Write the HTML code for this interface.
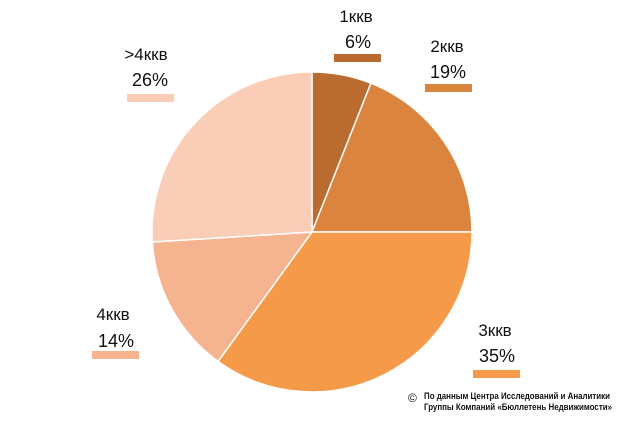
<!DOCTYPE html><html><head><meta charset="utf-8"><style>
body{margin:0;background:#fff;width:620px;height:420px;overflow:hidden}
svg text{font-family:"Liberation Sans",sans-serif;fill:#111}
</style></head><body>
<svg width="620" height="420" xmlns="http://www.w3.org/2000/svg">
<g stroke="#fff" stroke-width="1.5">
<path d="M312,232 L312,72 A160,160 0 0 1 370.9,83.2 Z" fill="#b96b30"/>
<path d="M312,232 L370.9,83.2 A160,160 0 0 1 472,232 Z" fill="#da843d"/>
<path d="M312,232 L472,232 A160,160 0 0 1 218,361.4 Z" fill="#f59a48"/>
<path d="M312,232 L218,361.4 A160,160 0 0 1 152.3,242 Z" fill="#f6b38f"/>
<path d="M312,232 L152.3,242 A160,160 0 0 1 312,72 Z" fill="#f9cdb6"/>
</g>
<g font-size="17" text-anchor="middle">
<text x="356" y="22">1ккв</text><text x="358" y="48" font-size="18">6%</text>
<text x="447" y="52">2ккв</text><text x="448" y="78" font-size="18">19%</text>
<text x="495" y="336">3ккв</text><text x="497" y="362" font-size="18">35%</text>
<text x="113" y="320">4ккв</text><text x="116" y="347" font-size="18">14%</text>
<text x="146" y="60">&gt;4ккв</text><text x="150" y="86" font-size="18">26%</text>
</g>
<rect x="334" y="54" width="47" height="8" fill="#b96b30"/>
<rect x="425" y="84" width="47" height="8" fill="#da843d"/>
<rect x="473" y="370" width="47" height="8" fill="#f59a48"/>
<rect x="92" y="351" width="47" height="8" fill="#f6b38f"/>
<rect x="127" y="94" width="47" height="8" fill="#f9cdb6"/>
<text x="408" y="402" font-size="12" fill="#333">©</text>
<g font-size="9" font-weight="bold" style="fill:#444">
<text x="424" y="399" textLength="186" lengthAdjust="spacingAndGlyphs">По данным Центра Исследований и Аналитики</text>
<text x="424" y="410" textLength="188" lengthAdjust="spacingAndGlyphs">Группы Компаний «Бюллетень Недвижимости»</text>
</g>
</svg>
</body></html>
